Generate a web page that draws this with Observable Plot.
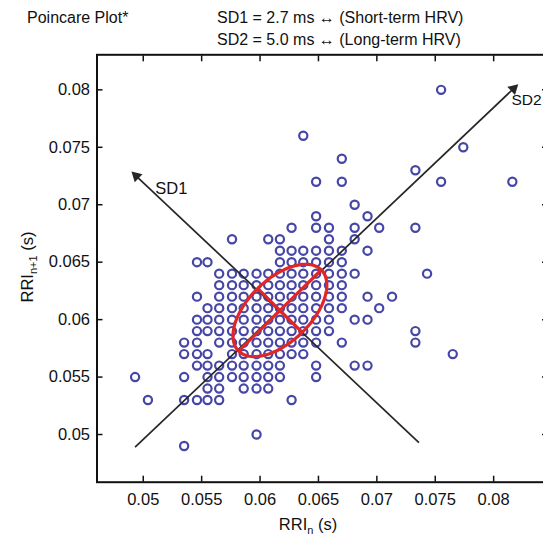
<!DOCTYPE html>
<html><head><meta charset="utf-8">
<script src="https://cdn.jsdelivr.net/npm/d3@7"></script>
<script src="https://cdn.jsdelivr.net/npm/@observablehq/plot@0.6"></script>
<style>
body{margin:0;background:#fff;font-family:"Liberation Sans",Arial,Helvetica,sans-serif;color:#111;}
#wrap{position:relative;width:543px;height:536px;overflow:hidden;background:#fff;}
#wrap svg{position:absolute;left:0;top:0;}
.t{position:absolute;font-size:16px;line-height:16px;white-space:nowrap;color:#111;}
.ax{position:absolute;font-size:16.5px;line-height:18px;white-space:nowrap;color:#111;}
.ax sub{font-size:11px;vertical-align:-4px;line-height:0;}
</style></head><body>
<div id="wrap">
  <div class="t" style="left:27px;top:10px;">Poincare Plot*</div>
  <div class="t" style="left:217px;top:10px;">SD1 = 2.7 ms ↔ (Short-term HRV)</div>
  <div class="t" style="left:217px;top:32px;">SD2 = 5.0 ms ↔ (Long-term HRV)</div>
  <div class="ax" style="left:308px;top:515px;transform:translateX(-50%);">RRI<sub>n</sub> (s)</div>
  <div class="ax" style="left:27px;top:267px;transform:translate(-50%,-50%) rotate(-90deg);">RRI<sub>n+1</sub> (s)</div>
</div>
<script>
// ---- tick values / labels ----
const xTicks = [0.05, 0.055, 0.06, 0.065, 0.07, 0.075, 0.08];
const xTickLabels = ["0.05", "0.055", "0.06", "0.065", "0.07", "0.075", "0.08"];
const yTicks = [0.05, 0.055, 0.06, 0.065, 0.07, 0.075, 0.08];
const yTickLabels = ["0.05", "0.055", "0.06", "0.065", "0.07", "0.075", "0.08"];

// ---- scatter data: RRI_{n+1} per row, RRI_n values in that row ----
const rowRRnext = [0.080, 0.076, 0.075, 0.074, 0.073, 0.072, 0.070, 0.069, 0.068, 0.067,
  0.066, 0.065, 0.064, 0.063, 0.062, 0.061, 0.060, 0.059, 0.058, 0.057, 0.056, 0.055,
  0.054, 0.053, 0.050, 0.049];
const rowRRn = [
  [0.0755],
  [0.0637],
  [0.0774],
  [0.0670],
  [0.0733],
  [0.0648, 0.0670, 0.0755, 0.0816],
  [0.0681],
  [0.0648, 0.0692],
  [0.0627, 0.0648, 0.0659, 0.0681, 0.0702, 0.0733],
  [0.0576, 0.0607, 0.0617, 0.0659, 0.0681],
  [0.0617, 0.0627, 0.0637, 0.0648, 0.0659, 0.0670, 0.0692],
  [0.0546, 0.0555, 0.0617, 0.0627, 0.0637, 0.0648, 0.0659, 0.0670],
  [0.0565, 0.0576, 0.0586, 0.0597, 0.0607, 0.0617, 0.0627, 0.0637, 0.0648, 0.0659, 0.0670, 0.0681, 0.0743],
  [0.0565, 0.0576, 0.0586, 0.0597, 0.0607, 0.0617, 0.0627, 0.0637, 0.0648, 0.0659, 0.0670],
  [0.0546, 0.0565, 0.0576, 0.0586, 0.0597, 0.0607, 0.0617, 0.0627, 0.0637, 0.0648, 0.0659, 0.0670, 0.0692, 0.0713],
  [0.0555, 0.0565, 0.0576, 0.0586, 0.0597, 0.0607, 0.0617, 0.0627, 0.0637, 0.0648, 0.0659, 0.0670, 0.0702],
  [0.0546, 0.0555, 0.0565, 0.0576, 0.0586, 0.0597, 0.0607, 0.0617, 0.0627, 0.0637, 0.0648, 0.0659, 0.0681, 0.0692],
  [0.0546, 0.0555, 0.0565, 0.0576, 0.0586, 0.0597, 0.0607, 0.0617, 0.0627, 0.0637, 0.0648, 0.0659, 0.0733],
  [0.0535, 0.0546, 0.0565, 0.0576, 0.0586, 0.0597, 0.0607, 0.0617, 0.0627, 0.0637, 0.0648, 0.0670, 0.0733],
  [0.0535, 0.0546, 0.0555, 0.0576, 0.0586, 0.0597, 0.0607, 0.0617, 0.0627, 0.0637, 0.0765],
  [0.0546, 0.0555, 0.0565, 0.0576, 0.0586, 0.0597, 0.0607, 0.0617, 0.0648, 0.0681, 0.0692],
  [0.0493, 0.0535, 0.0555, 0.0565, 0.0576, 0.0586, 0.0597, 0.0607, 0.0617, 0.0648],
  [0.0555, 0.0565, 0.0586, 0.0597, 0.0607],
  [0.0504, 0.0535, 0.0546, 0.0555, 0.0565, 0.0627],
  [0.0597],
  [0.0535]
];

// ---- SD ellipse ----
const ellipseCenter = [0.0617, 0.0608];
const sd1 = 0.0027;
const sd2 = 0.0050;

// ---- SD axis arrows (tail -> tip) ----
const sd1ArrowX = [0.0736, 0.0494];
const sd1ArrowY = [0.0493, 0.0725];
const sd2ArrowX = [0.0493, 0.0817];
const sd2ArrowY = [0.0489, 0.0801];

// ---- layout ----
const W = 543, H = 536;
const mL = 96.5, mR = -4, mT = 54.3, mB = 54.3;
const xDomain = [0.04604, 0.08461];
const yDomain = [0.04585, 0.08305];

const points = [];
rowRRnext.forEach((yv, i) => rowRRn[i].forEach(xv => points.push({x: xv, y: yv})));

// ellipse geometry from SD1 / SD2 (axes along identity line)
const u = [Math.SQRT1_2, Math.SQRT1_2], v = [-Math.SQRT1_2, Math.SQRT1_2];
const ell = d3.range(0, 361, 3).map(a => {
  const t = a * Math.PI / 180;
  return {x: ellipseCenter[0] + sd2 * Math.cos(t) * u[0] + sd1 * Math.sin(t) * v[0],
          y: ellipseCenter[1] + sd2 * Math.cos(t) * u[1] + sd1 * Math.sin(t) * v[1]};
});
const cross = [
  {x1: ellipseCenter[0] - sd2 * u[0], y1: ellipseCenter[1] - sd2 * u[1], x2: ellipseCenter[0] + sd2 * u[0], y2: ellipseCenter[1] + sd2 * u[1]},
  {x1: ellipseCenter[0] - sd1 * v[0], y1: ellipseCenter[1] - sd1 * v[1], x2: ellipseCenter[0] + sd1 * v[0], y2: ellipseCenter[1] + sd1 * v[1]}
];

const sx = Plot.scale({x: {domain: xDomain, range: [mL, W - mR]}});
const sy = Plot.scale({y: {domain: yDomain, range: [H - mB, mT]}});
function headAngle(X, Y) {
  const dx = sx.apply(X[1]) - sx.apply(X[0]);
  const dy = sy.apply(Y[1]) - sy.apply(Y[0]);
  return Math.atan2(dx, -dy) * 180 / Math.PI;
}
const arrows = [
  {x1: sd1ArrowX[0], y1: sd1ArrowY[0], x2: sd1ArrowX[1], y2: sd1ArrowY[1], rot: headAngle(sd1ArrowX, sd1ArrowY), label: "SD1"},
  {x1: sd2ArrowX[0], y1: sd2ArrowY[0], x2: sd2ArrowX[1], y2: sd2ArrowY[1], rot: headAngle(sd2ArrowX, sd2ArrowY), label: "SD2"}
];

const red = "#e12626";
const blue = "#4646a6";
const ink = "#262626";

const chart = Plot.plot({
  width: W, height: H,
  marginLeft: mL, marginRight: mR, marginTop: mT, marginBottom: mB,
  x: {domain: xDomain},
  y: {domain: yDomain},
  style: {fontFamily: "'Liberation Sans', Arial, sans-serif", fontSize: "16.5px", color: "#111", background: "transparent", overflow: "visible"},
  marks: [
    // inner ticks on all four sides
    Plot.axisX(xTicks, {anchor: "bottom", tickSize: 6, dy: -6, fill: "none", label: null, strokeWidth: 1.5, stroke: "#111"}),
    Plot.axisX(xTicks, {anchor: "top", tickSize: 6, dy: 6, fill: "none", label: null, strokeWidth: 1.5, stroke: "#111"}),
    Plot.axisY(yTicks, {anchor: "left", tickSize: 6, dx: 6, fill: "none", label: null, strokeWidth: 1.5, stroke: "#111"}),
    Plot.axisY(yTicks, {anchor: "right", tickSize: 6, dx: -6, fill: "none", label: null, strokeWidth: 1.5, stroke: "#111"}),
    // tick labels
    Plot.axisX(xTicks, {anchor: "bottom", tickSize: 0, tickPadding: 11, label: null, tickFormat: d => xTickLabels[xTicks.indexOf(d)]}),
    Plot.axisY(yTicks, {anchor: "left", tickSize: 0, tickPadding: 7, label: null, tickFormat: d => yTickLabels[yTicks.indexOf(d)]}),
    Plot.frame({stroke: "#111", strokeWidth: 2}),
    // scatter
    Plot.dot(points, {x: "x", y: "y", r: 4.1, stroke: blue, strokeWidth: 2.2, fill: "none"}),
    // SD axes
    Plot.link(arrows, {x1: "x1", y1: "y1", x2: "x2", y2: "y2", stroke: ink, strokeWidth: 1.7}),
    Plot.dot(arrows, {x: "x2", y: "y2", symbol: "triangle", r: 4.2, fill: ink, stroke: "none", rotate: "rot"}),
    Plot.text(arrows.slice(0, 1), {x: "x2", y: "y2", text: "label", dx: 19, dy: 13, textAnchor: "start", fontSize: 16.5, fill: "#111"}),
    Plot.text(arrows.slice(1), {x: "x2", y: "y2", text: "label", dx: -2, dy: 11, textAnchor: "start", fontSize: 15.5, fill: "#111"}),
    // ellipse and its axes
    Plot.line(ell, {x: "x", y: "y", stroke: red, strokeWidth: 3.2}),
    Plot.link(cross, {x1: "x1", y1: "y1", x2: "x2", y2: "y2", stroke: red, strokeWidth: 3.2})
  ]
});
document.getElementById("wrap").prepend(chart);
</script>
</body></html>
